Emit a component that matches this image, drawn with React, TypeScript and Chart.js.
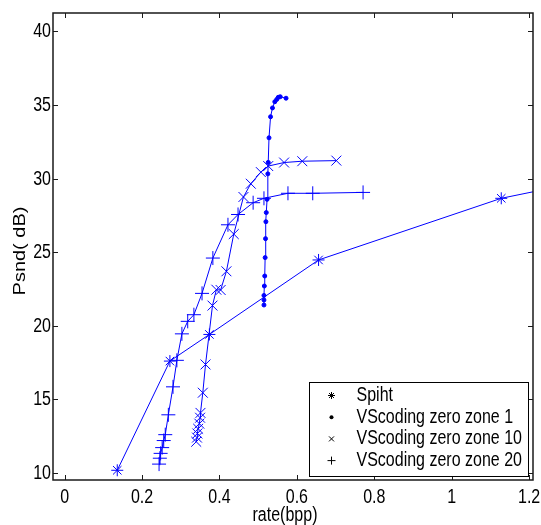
import { useEffect, useRef } from "react";
import { Chart, registerables } from "chart.js";

Chart.register(...registerables);

// ---- data ----
const spihtRate = [0.136, 0.272, 0.374, 0.656, 1.128, 1.6];
const spihtPsnd = [10.18, 17.6, 19.41, 24.47, 28.66, 31.2];

const zone1Rate = [0.515, 0.515, 0.515, 0.516, 0.517, 0.518, 0.519, 0.52, 0.521, 0.523, 0.525, 0.526, 0.528, 0.532, 0.537, 0.543, 0.548, 0.552, 0.557, 0.572];
const zone1Psnd = [21.41, 21.75, 22.06, 22.7, 23.38, 24.63, 25.92, 27.07, 27.69, 28.59, 30.32, 31.1, 32.77, 34.2, 34.8, 35.22, 35.38, 35.52, 35.56, 35.46];

const zone10Rate = [0.34, 0.342, 0.343, 0.345, 0.348, 0.35, 0.351, 0.357, 0.364, 0.382, 0.392, 0.403, 0.418, 0.437, 0.462, 0.481, 0.507, 0.526, 0.567, 0.614, 0.702];
const zone10Psnd = [12.12, 12.4, 12.68, 13.0, 13.35, 13.75, 14.08, 15.45, 17.37, 21.37, 22.45, 22.43, 23.7, 26.23, 28.75, 29.65, 30.44, 30.85, 31.09, 31.18, 31.22];

const zone20Rate = [0.244, 0.246, 0.248, 0.252, 0.256, 0.26, 0.268, 0.28, 0.29, 0.303, 0.318, 0.334, 0.355, 0.383, 0.422, 0.448, 0.487, 0.515, 0.577, 0.641, 0.771];
const zone20Psnd = [10.6, 11.0, 11.33, 11.72, 12.2, 12.6, 13.95, 15.85, 17.65, 19.45, 20.3, 20.75, 22.2, 24.6, 26.86, 27.56, 28.36, 28.66, 29.0, 29.0, 29.06];

const seriesLabels = ["Spiht", "VScoding zero zone 1", "VScoding zero zone 10", "VScoding zero zone 20"];

const xTitle = "rate(bpp)";
const yTitle = "Psnd( dB)";

const FONT = "'Liberation Sans', Arial, sans-serif";
const BLUE = "#0000ff";
const STRETCH = 1.25;

function pts(xs: number[], ys: number[]) {
  return xs.map((x, i) => ({ x, y: ys[i] }));
}

function fmt(v: number) {
  return Number(v.toFixed(2)).toString();
}

function text(ctx: CanvasRenderingContext2D, s: string, x: number, y: number, align: CanvasTextAlign) {
  ctx.save();
  ctx.translate(x, y);
  ctx.scale(1, STRETCH);
  ctx.textAlign = align;
  ctx.textBaseline = "middle";
  ctx.fillText(s, 0, 0);
  ctx.restore();
}

function drawSymbol(ctx: CanvasRenderingContext2D, kind: string, x: number, y: number) {
  ctx.beginPath();
  if (kind === "star") {
    const r = 3.5;
    ctx.moveTo(x - r, y); ctx.lineTo(x + r, y);
    ctx.moveTo(x, y - r); ctx.lineTo(x, y + r);
    const d = r * 0.707;
    ctx.moveTo(x - d, y - d); ctx.lineTo(x + d, y + d);
    ctx.moveTo(x - d, y + d); ctx.lineTo(x + d, y - d);
    ctx.stroke();
  } else if (kind === "circle") {
    ctx.arc(x, y, 2, 0, Math.PI * 2);
    ctx.fill();
  } else if (kind === "crossRot") {
    const d = 2.5;
    ctx.moveTo(x - d, y - d); ctx.lineTo(x + d, y + d);
    ctx.moveTo(x - d, y + d); ctx.lineTo(x + d, y - d);
    ctx.stroke();
  } else {
    const r = 4;
    ctx.moveTo(x - r, y); ctx.lineTo(x + r, y);
    ctx.moveTo(x, y - r); ctx.lineTo(x, y + r);
    ctx.stroke();
  }
}

const framePlugin = {
  id: "matlabFrame",
  afterDraw(chart: any) {
    const { ctx, chartArea: a, scales } = chart;
    const xs = scales.x;
    const ys = scales.y;
    ctx.save();
    ctx.strokeStyle = "#1a1a1a";
    ctx.lineWidth = 1;
    ctx.beginPath();
    xs.ticks.forEach((t: any) => {
      const px = Math.round(xs.getPixelForValue(t.value)) + 0.5;
      ctx.moveTo(px, a.bottom);
      ctx.lineTo(px, a.bottom - 5);
      ctx.moveTo(px, a.top);
      ctx.lineTo(px, a.top + 5);
    });
    ys.ticks.forEach((t: any) => {
      const py = Math.round(ys.getPixelForValue(t.value)) + 0.5;
      ctx.moveTo(a.left, py);
      ctx.lineTo(a.left + 5, py);
      ctx.moveTo(a.right, py);
      ctx.lineTo(a.right - 5, py);
    });
    ctx.stroke();
    ctx.lineWidth = 1.5;
    ctx.strokeRect(a.left, a.top, a.right - a.left, a.bottom - a.top);

    // tick labels
    ctx.fillStyle = "#000000";
    ctx.font = `16px ${FONT}`;
    xs.ticks.forEach((t: any) => {
      text(ctx, fmt(t.value), xs.getPixelForValue(t.value), a.bottom + 17, "center");
    });
    ys.ticks.forEach((t: any) => {
      text(ctx, fmt(t.value), a.left - 2, ys.getPixelForValue(t.value) + 0.5, "right");
    });

    // legend box
    const bw = 219;
    const bh = 94;
    const bx = Math.round(a.right - 5 - bw) + 0.5;
    const by = Math.round(a.bottom - 4 - bh) + 0.5;
    ctx.fillStyle = "#ffffff";
    ctx.fillRect(bx, by, bw, bh);
    ctx.lineWidth = 1;
    ctx.strokeStyle = "#000000";
    ctx.strokeRect(bx, by, bw, bh);
    const kinds = ["star", "circle", "crossRot", "cross"];
    ctx.fillStyle = "#000000";
    seriesLabels.forEach((lab, i) => {
      const cy = by + 13 + i * 21.7;
      drawSymbol(ctx, kinds[i], bx + 22, cy);
      text(ctx, lab, bx + 47, cy, "left");
    });

    // axis titles
    text(ctx, xTitle, 285, 515, "center");
    ctx.save();
    ctx.translate(21, 251);
    ctx.rotate(-Math.PI / 2);
    ctx.scale(STRETCH, 1);
    ctx.textAlign = "center";
    ctx.textBaseline = "middle";
    ctx.fillText(yTitle, 0, 0);
    ctx.restore();
    ctx.restore();
  },
};

export default function App() {
  const ref = useRef<HTMLCanvasElement | null>(null);
  useEffect(() => {
    if (!ref.current) return;
    const common = {
      borderColor: BLUE,
      backgroundColor: BLUE,
      pointBorderColor: BLUE,
      pointBackgroundColor: BLUE,
      borderWidth: 1,
      pointBorderWidth: 1,
      showLine: true,
      tension: 0,
    };
    const chart = new Chart(ref.current, {
      type: "scatter",
      data: {
        datasets: [
          { ...common, label: seriesLabels[0], data: pts(spihtRate, spihtPsnd), pointStyle: "star", pointRadius: 6 },
          { ...common, label: seriesLabels[1], data: pts(zone1Rate, zone1Psnd), pointStyle: "circle", pointRadius: 2 },
          { ...common, label: seriesLabels[2], data: pts(zone10Rate, zone10Psnd), pointStyle: "crossRot", pointRadius: 7 },
          { ...common, label: seriesLabels[3], data: pts(zone20Rate, zone20Psnd), pointStyle: "cross", pointRadius: 7 },
        ],
      },
      options: {
        animation: false,
        responsive: false,
        events: [],
        layout: { padding: { left: 0, top: 13, right: 6, bottom: 0 } },
        plugins: { legend: { display: false }, tooltip: { enabled: false } },
        scales: {
          x: {
            type: "linear",
            min: -0.03,
            max: 1.21,
            border: { display: false },
            grid: { display: false, drawTicks: false },
            ticks: {
              display: false,
              stepSize: 0.2,
              includeBounds: false,
              autoSkip: false,
              maxRotation: 0,
            },
            afterFit: (s: any) => {
              s.height = 45;
            },
          },
          y: {
            type: "linear",
            min: 9.52,
            max: 41.25,
            border: { display: false },
            grid: { display: false, drawTicks: false },
            ticks: {
              display: false,
              stepSize: 5,
              includeBounds: false,
              autoSkip: false,
            },
            afterFit: (s: any) => {
              s.width = 53;
            },
          },
        },
      },
      plugins: [framePlugin],
    } as any);
    return () => chart.destroy();
  }, []);
  return (
    <div style={{ position: "fixed", left: 0, top: 0, width: 541, height: 525, background: "#fff" }}>
      <canvas ref={ref} width={541} height={525} style={{ display: "block" }} />
    </div>
  );
}
